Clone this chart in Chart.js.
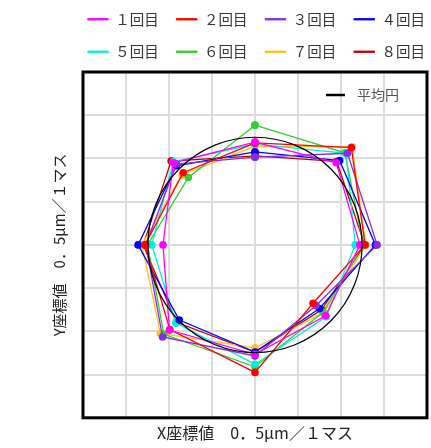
<!DOCTYPE html>
<html><head><meta charset="utf-8">
<script src="https://cdn.jsdelivr.net/npm/chart.js@4/dist/chart.umd.min.js"></script>
<style>html,body{margin:0;padding:0;background:#fff}</style>
</head><body>
<canvas id="c" width="431" height="448"></canvas>
<script>
// ---- data ----
const seriesNames = ['１回目','２回目','３回目','４回目','５回目','６回目','７回目','８回目'];
const seriesColors = ['#ff00ff','#ff0000','#8a2be2','#0000ff','#00eedd','#33cc33','#ffc020','#c00000'];
// points in order: top, top-right, right, bottom-right, bottom, bottom-left, left, top-left
const s1X = [0, 1.89, 2.44, 1.64, 0, -1.99, -2.14, -1.90];
const s1Y = [2.38, 1.90, 0, -1.64, -2.53, -1.97, 0, 1.90];
const s2X = [0, 2.24, 2.56, 1.35, 0, -1.98, -2.56, -1.67];
const s2Y = [2.36, 2.25, 0, -1.35, -2.95, -1.96, 0, 1.67];
const s3X = [0, 2.15, 2.84, 1.42, 0, -2.15, -2.54, -1.83];
const s3Y = [2.03, 2.12, 0, -1.40, -2.57, -2.13, 0, 1.87];
const s4X = [0, 1.97, 2.80, 1.50, 0, -1.76, -2.72, -1.83];
const s4Y = [2.15, 1.95, 0, -1.47, -2.48, -1.74, 0, 1.83];
const s5X = [0, 2.12, 2.33, 1.66, 0, -1.84, -2.40, -1.90];
const s5Y = [2.33, 2.12, 0, -1.66, -2.76, -1.81, 0, 1.92];
const s6X = [0, 2.09, 2.52, 1.58, 0, -2.12, -2.50, -1.55];
const s6Y = [2.77, 2.13, 0, -1.56, -2.82, -2.07, 0, 1.56];
const s7X = [0, 2.26, 2.58, 1.60, 0, -2.20, -2.63, -1.70];
const s7Y = [2.28, 2.27, 0, -1.57, -2.38, -2.05, 0, 1.62];
const s8X = [0, 1.90, 2.55, 1.55, 0, -1.83, -2.60, -1.95];
const s8Y = [2.06, 1.93, 0, -1.50, -2.48, -1.79, 0, 1.94];
const seriesX = [s1X, s2X, s3X, s4X, s5X, s6X, s7X, s8X];
const seriesY = [s1Y, s2Y, s3Y, s4Y, s5Y, s6Y, s7Y, s8Y];
const circleLabel = '平均円';
const circleCenter = [0, 0];
const circleRadius = 2.49;
const axisMin = -4, axisMax = 4, axisStep = 1;
const xTitle = 'X座標値　0．5µm／１マス';
const yTitle = 'Y座標値　0．5µm／１マス';

// ---- build ----
const datasets = seriesNames.map((name, i) => {
  const pts = seriesX[i].map((x, j) => ({x: x, y: seriesY[i][j]}));
  pts.push(pts[0]); // close polygon
  return {
    label: name, data: pts, showLine: true, xAxisID: 'x', yAxisID: 'y',
    borderColor: seriesColors[i], backgroundColor: seriesColors[i],
    borderWidth: 1.3, pointRadius: 3.8, pointBorderWidth: 0, pointHoverRadius: 4
  };
});

const legendShift = {
  id: 'legendShift',
  beforeDraw(chart) {
    const lg = chart.legend;
    if (!lg) return;
    lg.left = chart.chartArea.left - 13;
    lg.right = chart.width + 60;
  }
};

const circlePlugin = {
  id: 'avgCircle',
  afterDatasetsDraw(chart) {
    const xs = chart.scales.x, ys = chart.scales.y, ctx = chart.ctx, a = chart.chartArea;
    const cx = xs.getPixelForValue(circleCenter[0]);
    const cy = ys.getPixelForValue(circleCenter[1]);
    const rx = Math.abs(xs.getPixelForValue(circleCenter[0] + circleRadius) - cx);
    const ry = Math.abs(ys.getPixelForValue(circleCenter[1] + circleRadius) - cy);
    ctx.save();
    ctx.strokeStyle = '#000'; ctx.lineWidth = 1.2;
    ctx.beginPath(); ctx.ellipse(cx, cy, rx, ry, 0, 0, Math.PI * 2); ctx.stroke();
    // inner legend
    ctx.lineWidth = 2.5;
    ctx.beginPath(); ctx.moveTo(a.right - 101, a.top + 23); ctx.lineTo(a.right - 82, a.top + 23); ctx.stroke();
    ctx.fillStyle = '#555';
    ctx.font = '14px "Noto Sans CJK JP", sans-serif';
    ctx.textBaseline = 'middle'; ctx.textAlign = 'left';
    ctx.fillText(circleLabel, a.right - 70, a.top + 23);
    // frame
    ctx.lineWidth = 3; ctx.strokeStyle = '#000';
    ctx.strokeRect(a.left, a.top, a.right - a.left, a.bottom - a.top);
    ctx.restore();
  }
};

const axisCommon = {
  type: 'linear', min: axisMin, max: axisMax,
  ticks: { display: false, stepSize: axisStep },
  grid: { color: '#dcdcdc', lineWidth: 2, drawTicks: false },
  border: { display: false }
};
const xTitleFont = { size: 16, family: '"Noto Sans CJK JP", sans-serif' };
const yTitleFont = { size: 15, family: '"Noto Sans CJK JP", sans-serif' };

new Chart(document.getElementById('c'), {
  type: 'scatter',
  data: { datasets: datasets },
  plugins: [legendShift, circlePlugin],
  options: {
    responsive: false, animation: false,
    layout: { padding: { left: 45, right: 1, top: -6, bottom: 1 } },
    plugins: {
      legend: {
        position: 'top', align: 'start',
        labels: { boxWidth: 20, boxHeight: 1, padding: 18, color: '#333',
                  font: { size: 14.5, family: '"Noto Sans CJK JP", sans-serif' } }
      },
      tooltip: { enabled: false }
    },
    scales: {
      x: Object.assign({}, axisCommon, {
        title: { display: true, text: xTitle, color: '#222', font: xTitleFont,
                 padding: { top: 6, bottom: 4 } }
      }),
      y: Object.assign({}, axisCommon, {
        title: { display: true, text: yTitle, color: '#222', font: yTitleFont,
                 padding: { top: 5, bottom: 15 } }
      }),
      xTopGap: {
        type: 'linear', axis: 'x', position: 'top', min: axisMin, max: axisMax,
        ticks: { display: false },
        grid: { drawOnChartArea: false, drawTicks: true, tickLength: 3, color: 'rgba(0,0,0,0)' },
        border: { display: false }
      }
    }
  }
});
</script>
</body></html>
